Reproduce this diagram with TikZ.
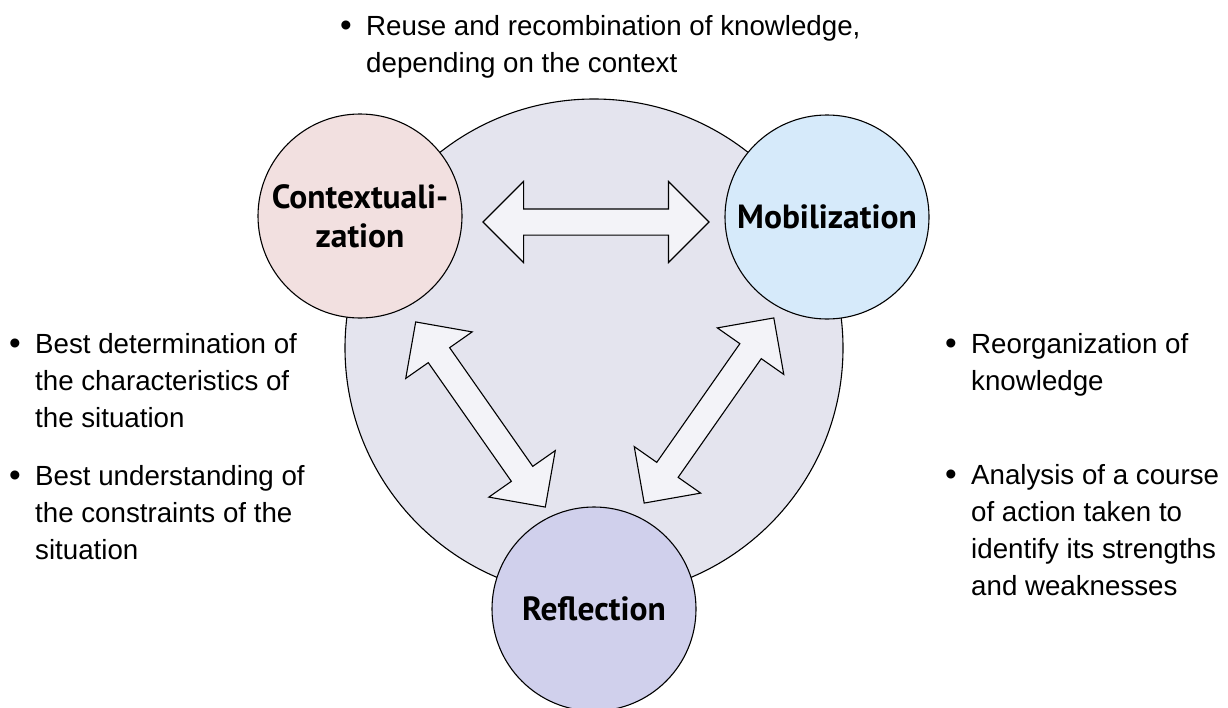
\documentclass[tikz,border=0pt]{standalone}
\usepackage{fontspec}
\setmainfont{Liberation Sans}
\newfontfamily\circfont{PT Sans}
\usetikzlibrary{shapes.arrows, positioning}

\definecolor{bigfill}{RGB}{228,228,238}
\definecolor{ctxfill}{RGB}{242,224,224}
\definecolor{mobfill}{RGB}{214,234,250}
\definecolor{reffill}{RGB}{208,208,236}
\definecolor{arrowfill}{RGB}{243,243,248}

\newcommand{\bul}{\makebox[26pt][l]{\raisebox{-1.5pt}{\scalebox{1.2}{\textbullet}}}}

\tikzset{
  phase/.style={circle, draw, line width=1.1pt, minimum size=204pt, inner sep=0pt,
    font=\circfont\bfseries\fontsize{33.5}{39}\selectfont, align=center},
  fatarrow/.style={double arrow, draw, line width=1.1pt, fill=arrowfill,
    minimum height=226pt, minimum width=80pt, double arrow head extend=27.5pt,
    inner xsep=0pt, inner ysep=12.5pt},
  notes/.style={anchor=base west, inner sep=0pt, font=\fontsize{27.7}{37}\selectfont}
}

\begin{document}
\begin{tikzpicture}[x=1pt, y=-1pt]
\clip (0,0) rectangle (1228,707);

\node[circle, draw, line width=1.1pt, fill=bigfill, minimum size=498pt] (big) at (594,348) {};

\node[phase, fill=ctxfill] (ctx) at (360,216) {Contextuali-\\zation};
\node[phase, fill=mobfill] (mob) at (827,217) {Mobilization};
\node[phase, fill=reffill] (ref) at (594,609) {Reflection};

\node[fatarrow] (ctxmob) at (596,222) {};
\node[fatarrow, rotate=-55] (ctxref) at (480.5,414.5) {};
\node[fatarrow, rotate=55] (mobref) at (709,410.5) {};

\node[notes] (topnote) at (340,35) {\begin{tabular}[t]{@{}l@{}l@{}}
  \bul & Reuse and recombination of knowledge,\\
       & depending on the context
\end{tabular}};
\node[notes] (leftnoteA) at (9,353) {\begin{tabular}[t]{@{}l@{}l@{}}
  \bul & Best determination of\\
       & the characteristics of\\
       & the situation
\end{tabular}};
\node[notes] (leftnoteB) at (9,485) {\begin{tabular}[t]{@{}l@{}l@{}}
  \bul & Best understanding of\\
       & the constraints of the\\
       & situation
\end{tabular}};
\node[notes] (rightnoteA) at (945,353) {\begin{tabular}[t]{@{}l@{}l@{}}
  \bul & Reorganization of\\
       & knowledge
\end{tabular}};
\node[notes] (rightnoteB) at (945,484) {\begin{tabular}[t]{@{}l@{}l@{}}
  \bul & Analysis of a course\\
       & of action taken to\\
       & identify its strengths\\
       & and weaknesses
\end{tabular}};
\end{tikzpicture}
\end{document}
